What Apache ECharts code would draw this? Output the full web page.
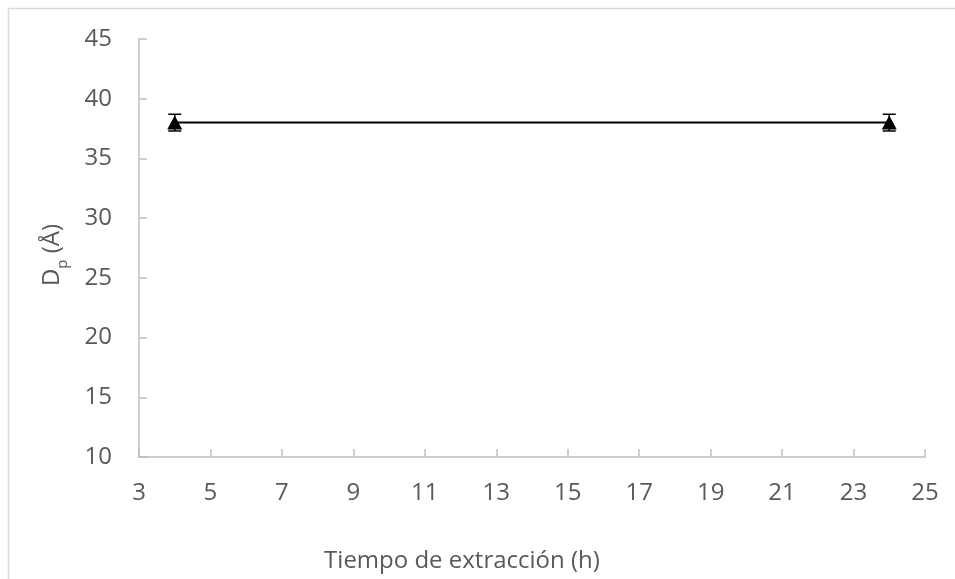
<!DOCTYPE html>
<html>
<head>
<meta charset="utf-8">
<script src="https://cdn.jsdelivr.net/npm/echarts@6/dist/echarts.min.js"></script>
<style>
  html, body { margin: 0; padding: 0; background: #fff; }
  #chart { width: 955px; height: 579px; }
</style>
</head>
<body>
<div id="chart"></div>
<script>
// Extraction time (h) and pore diameter (Å) with standard deviation
const tiempos = [4, 24];
const diametros = [38, 38];
const desviaciones = [0.7, 0.7];
const xTicks = [3, 5, 7, 9, 11, 13, 15, 17, 19, 21, 23, 25];
const yTicks = [10, 15, 20, 25, 30, 35, 40, 45];

const FONT = '"Open Sans", "Liberation Sans", sans-serif';
const TEXT = '#595959';
const AXIS = '#bfbfbf';

const puntos = tiempos.map((t, i) => [t, diametros[i]]);
const barras = tiempos.map((t, i) => [t, diametros[i] - desviaciones[i], diametros[i] + desviaciones[i]]);

const chart = echarts.init(document.getElementById('chart'));
chart.setOption({
  animation: false,
  backgroundColor: '#fff',
  grid: { left: 139, right: 30, top: 39, bottom: 122, containLabel: false },
  xAxis: {
    type: 'value',
    min: xTicks[0], max: xTicks[xTicks.length - 1], interval: 2,
    axisLine: { show: true, lineStyle: { color: AXIS, width: 1.5 } },
    axisTick: { show: true, inside: true, length: 8, lineStyle: { color: AXIS, width: 1.5 } },
    axisLabel: { color: TEXT, fontFamily: FONT, fontSize: 24, margin: 24 },
    splitLine: { show: false }
  },
  yAxis: {
    type: 'value',
    min: yTicks[0], max: yTicks[yTicks.length - 1], interval: 5,
    axisLine: { show: true, lineStyle: { color: AXIS, width: 1.5 } },
    axisTick: { show: true, inside: true, length: 8, lineStyle: { color: AXIS, width: 1.5 } },
    axisLabel: { color: TEXT, fontFamily: FONT, fontSize: 24, margin: 27 },
    splitLine: { show: false }
  },
  graphic: [
    {
      type: 'rect', silent: true, z: -1,
      shape: { x: 8.5, y: 8.5, width: 1000, height: 1000 },
      style: { fill: 'none', stroke: '#d9d9d9', lineWidth: 1.5 }
    },
    {
      type: 'text', x: 462, y: 561,
      style: {
        text: 'Tiempo de extracción (h)', fill: TEXT, font: '24px ' + FONT,
        align: 'center', verticalAlign: 'middle'
      }
    },
    {
      type: 'text', x: 52, y: 255, rotation: Math.PI / 2,
      style: {
        text: '{m|D}{s|p}{m| (Å)}',
        align: 'center', verticalAlign: 'middle',
        rich: {
          m: { fill: TEXT, fontFamily: FONT, fontSize: 24, verticalAlign: 'bottom' },
          s: { fill: TEXT, fontFamily: FONT, fontSize: 15, verticalAlign: 'bottom', padding: [0, 0, -6, 0] }
        }
      }
    }
  ],
  series: [
    {
      type: 'custom',
      data: barras,
      z: 1,
      renderItem: function (params, api) {
        const x = api.value(0);
        const lo = api.coord([x, api.value(1)]);
        const hi = api.coord([x, api.value(2)]);
        const w = 6.5;
        const st = { stroke: '#000', lineWidth: 1.5 };
        return {
          type: 'group',
          children: [
            { type: 'line', shape: { x1: lo[0], y1: lo[1], x2: hi[0], y2: hi[1] }, style: st },
            { type: 'line', shape: { x1: hi[0] - w, y1: hi[1], x2: hi[0] + w, y2: hi[1] }, style: st },
            { type: 'line', shape: { x1: lo[0] - w, y1: lo[1], x2: lo[0] + w, y2: lo[1] }, style: st }
          ]
        };
      }
    },
    {
      type: 'line',
      data: puntos,
      z: 2,
      symbol: 'triangle',
      symbolSize: [15, 14],
      itemStyle: { color: '#000' },
      lineStyle: { color: '#000', width: 2 }
    }
  ]
});
</script>
</body>
</html>
